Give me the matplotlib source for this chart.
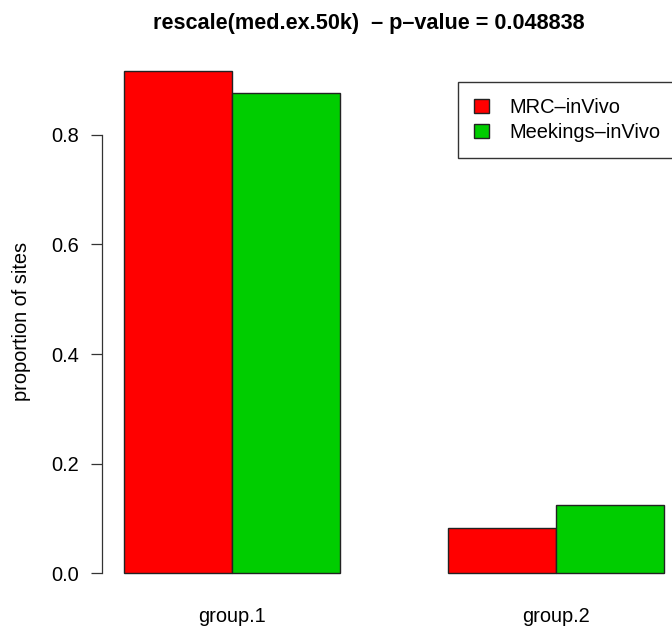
import matplotlib
matplotlib.use("Agg")
import matplotlib.pyplot as plt
from matplotlib.patches import Patch

groups = ["group.1", "group.2"]
series = ["MRC\u2013inVivo", "Meekings\u2013inVivo"]
mrc = [0.9167, 0.0833]
meekings = [0.875, 0.125]
colors = ["#FF0000", "#00CD00"]
yticks = [0.0, 0.2, 0.4, 0.6, 0.8]
title = "rescale(med.ex.50k)  \u2013 p\u2013value = 0.048838"

plt.rcParams['font.family'] = ['Liberation Sans', 'DejaVu Sans']
W, H = 672, 635
fig = plt.figure(figsize=(W/100, H/100), dpi=100)

left_px, right_px = 102.4, 685.6
top_px, bot_px = 50.4, 593.6
ax = fig.add_axes([left_px/W, 1-bot_px/H, (right_px-left_px)/W, (bot_px-top_px)/H])

fs = 14.4
edge = "#222222"
# R-style beside layout: space=c(0,1)
lefts_mrc = [1 + 3*i for i in range(len(groups))]
lefts_mee = [2 + 3*i for i in range(len(groups))]
ax.bar(lefts_mrc, mrc, width=1, align='edge', color=colors[0], edgecolor=edge, linewidth=1.0)
ax.bar(lefts_mee, meekings, width=1, align='edge', color=colors[1], edgecolor=edge, linewidth=1.0)

xmin, xmax = 1, 3*len(groups)
rng = xmax - xmin
ax.set_xlim(xmin - 0.04*rng, xmax + 0.04*rng)
ymax = max(max(mrc), max(meekings))
ax.set_ylim(-0.04*ymax, 1.04*ymax)

for s in ['top', 'right', 'bottom']:
    ax.spines[s].set_visible(False)
ax.spines['left'].set_bounds(yticks[0], yticks[-1])
ax.spines['left'].set_linewidth(0.9)
ax.spines['left'].set_color("#333333")

ax.set_yticks(yticks)
ax.set_yticklabels([f"{v:.1f}" for v in yticks], fontsize=fs)
ax.tick_params(axis='y', direction='out', length=7.9, width=0.9, color="#333333", pad=8.6)

ax.set_xticks([l + 1 for l in lefts_mrc])
ax.set_xticklabels(groups, fontsize=fs)
ax.tick_params(axis='x', length=0, pad=9.6)

fig.text(22/W, 1-321/H, "proportion of sites", rotation=90, ha='center', va='center', fontsize=fs)
fig.text(369/W, 1-29/H, title, ha='center', va='baseline', fontsize=15.6, fontweight='bold')

handles = [Patch(facecolor=c, edgecolor=edge, linewidth=1.0) for c in colors]
leg = fig.legend(handles, series, loc='upper left', bbox_to_anchor=(458/W, 1-82/H),
                 fontsize=fs, frameon=True, fancybox=False, edgecolor='black',
                 handlelength=0.75, handleheight=0.75, handletextpad=1.0,
                 borderpad=0.8, labelspacing=0.3, borderaxespad=0)
leg.get_frame().set_linewidth(1.0)

fig.savefig("out.png", dpi=100)
